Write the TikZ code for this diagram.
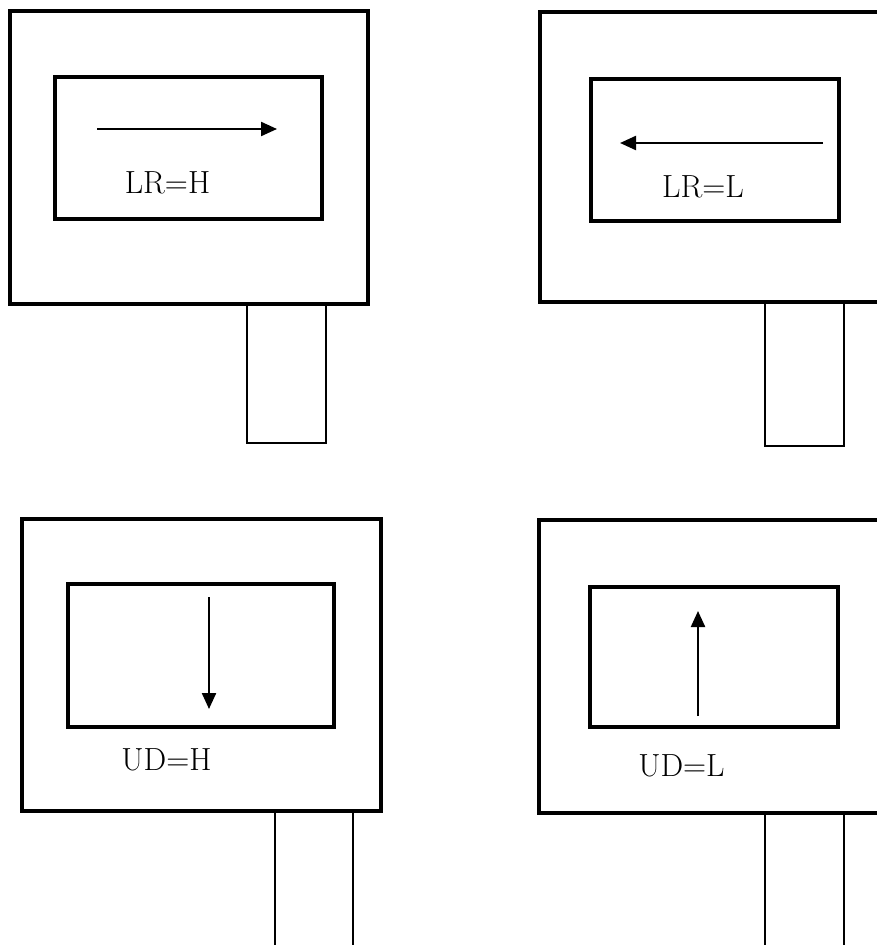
\documentclass[tikz,border=0pt]{standalone}
\usetikzlibrary{arrows.meta}
\begin{document}
\begin{tikzpicture}[x=0.75pt,y=-0.75pt,
  outerbox/.style={line width=2.6pt},
  innerbox/.style={line width=2.6pt},
  stembox/.style={line width=2.2pt},
  dirarrow/.style={line width=1.7pt,-{Triangle[length=12pt,width=10.5pt]}},
  lbl/.style={anchor=base,inner sep=0pt,font=\fontsize{24}{28}\selectfont}]
\useasboundingbox (0,0) rectangle (877,945);
\clip (0,0) rectangle (877,945);
% top-left
\draw[stembox] (247,304) rectangle (326,443);
\draw[outerbox,fill=white] (10,11) rectangle (368,304);
\draw[innerbox] (55,77) rectangle (322,219);
\coordinate (a1s) at (97,129);
\coordinate (a1e) at (277,129);
\draw[dirarrow] (a1s) -- (a1e);
\node[lbl] (t1) at (167.5,193) {LR=H};
% top-right
\draw[stembox] (765,302) rectangle (844,446);
\draw[outerbox,fill=white] (540,12) rectangle (895,302);
\draw[innerbox] (591,79) rectangle (839,221);
\coordinate (a2s) at (823,143);
\coordinate (a2e) at (620,143);
\draw[dirarrow] (a2s) -- (a2e);
\node[lbl] (t2) at (703,197) {LR=L};
% bottom-left
\draw[stembox] (275,811) rectangle (353,960);
\draw[outerbox,fill=white] (22,519) rectangle (381,811);
\draw[innerbox] (68,584) rectangle (334,727);
\coordinate (a3s) at (209,597);
\coordinate (a3e) at (209,709);
\draw[dirarrow] (a3s) -- (a3e);
\node[lbl] (t3) at (166.5,770) {UD=H};
% bottom-right
\draw[stembox] (765,813) rectangle (844,960);
\draw[outerbox,fill=white] (539,520) rectangle (895,813);
\draw[innerbox] (590,587) rectangle (838,727);
\coordinate (a4s) at (698,716);
\coordinate (a4e) at (698,611);
\draw[dirarrow] (a4s) -- (a4e);
\node[lbl] (t4) at (681.5,776) {UD=L};
\end{tikzpicture}
\end{document}
